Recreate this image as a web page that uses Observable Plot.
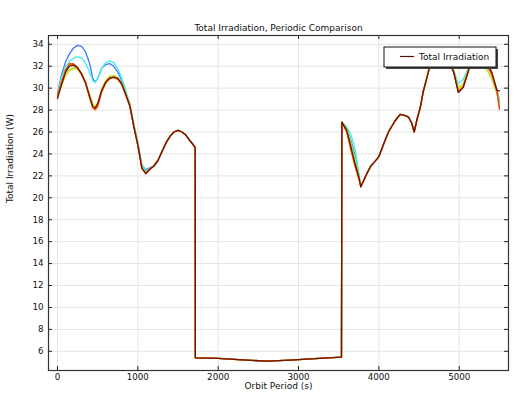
<!DOCTYPE html>
<html><head><meta charset="utf-8">
<script src="https://cdn.jsdelivr.net/npm/d3@7"></script>
<script src="https://cdn.jsdelivr.net/npm/@observablehq/plot@0.6"></script>
<style>html,body{margin:0;padding:0;background:#fff;} #chart{width:516px;height:397px;}</style>
</head><body><div id="chart"></div>
<script>
const seriesNames = ["Blue","Cyan","Green","Yellow","Orange","Red","Dark red"];
const seriesColors = ["#3f74ff","#3ef0ee","#7fe85a","#e6e21a","#ff8a1a","#e8401a","#761400"];
const xTicks = [0,1000,2000,3000,4000,5000];
const yTicks = [6,8,10,12,14,16,18,20,22,24,26,28,30,32,34];
const title = "Total Irradiation, Periodic Comparison";
const xLabel = "Orbit Period (s)";
const yLabel = "Total Irradiation (W)";
const legendLabel = "Total Irradiation";

// Segment A: start of orbit (series differ)
const tA = [0,50,100,150,200,250,300,350,400,440,470,500,550,600,650,700,750,800,850,900,950,1000,1050,1100,1150];
const aBlue    = [29.5,31.2,32.4,33.15,33.66,33.9,33.8,33.3,32.24,30.87,30.56,30.87,31.8,32.15,32.24,32.0,31.47,30.7,29.65,28.55,26.7,25.0,23.0,22.55,22.75];
const aCyan    = [29.4,31.0,31.9,32.45,32.75,32.85,32.75,32.25,31.45,30.7,30.5,30.87,31.8,32.3,32.48,32.33,31.8,30.9,29.8,28.6,26.7,25.0,22.95,22.45,22.7];
const aGreen   = [29.3,30.3,31.2,31.7,31.9,31.75,31.25,30.5,29.45,28.55,28.35,28.6,29.9,30.7,31.1,31.15,31.0,30.5,29.55,28.5,26.6,24.9,22.8,22.3,22.65];
const aYellow  = [29.25,30.2,31.1,31.6,31.8,31.7,31.2,30.45,29.4,28.5,28.3,28.55,29.85,30.65,31.05,31.12,30.95,30.45,29.5,28.45,26.55,24.85,22.75,22.25,22.6];
const aOrange  = [29.35,30.6,31.65,32.25,32.2,31.85,31.25,30.4,29.1,28.15,28.0,28.3,29.6,30.45,30.85,30.95,30.8,30.3,29.35,28.35,26.5,24.8,22.7,22.2,22.6];
const aRed     = [29.2,30.5,31.6,32.2,32.2,31.9,31.3,30.45,29.2,28.25,28.1,28.4,29.7,30.5,30.9,31.0,30.85,30.35,29.4,28.4,26.5,24.8,22.7,22.2,22.6];
const aDarkRed = [29.05,30.3,31.45,32.0,32.1,31.85,31.3,30.5,29.2,28.3,28.2,28.6,29.8,30.55,30.93,31.0,30.9,30.4,29.4,28.4,26.5,24.8,22.7,22.2,22.6];

// Shared: second hump and eclipse
const tShared1 = [1200,1250,1300,1350,1400,1450,1500,1550,1600,1650,1714,1716,2000,2300,2606,2900,3200,3535];
const vShared1 = [22.9,23.4,24.2,25.0,25.6,26.0,26.15,26.0,25.7,25.2,24.6,5.41,5.35,5.22,5.1,5.2,5.33,5.47];

// Segment B: exit of eclipse (series differ)
const tB = [3540,3600,3650,3700,3750,3776];
const bBlue    = [26.9,26.3,25.3,24.0,22.1,21.05];
const bCyan    = [26.9,26.45,25.8,24.6,22.3,21.05];
const bGreen   = [26.9,26.3,25.2,23.7,22.1,21.05];
const bYellow  = [26.85,26.05,24.5,23.0,21.75,21.0];
const bOrange  = [26.85,26.0,24.4,22.9,21.7,21.0];
const bRed     = [26.9,26.1,24.6,23.1,21.85,21.0];
const bDarkRed = [26.9,26.15,24.7,23.2,21.9,21.0];

// Shared: after eclipse
const tShared2 = [3850,3900,3950,4000,4060,4120,4200,4266,4330,4370,4410,4440,4480,4515,4550,4600,4630];
const vShared2 = [22.2,22.9,23.3,23.75,24.9,26.0,27.0,27.6,27.5,27.35,26.8,26.0,27.3,28.2,29.6,31.0,31.9];

// Segment C: end of orbit (series differ)
const tC = [4700,4780,4860,4930,4990,5050,5100,5137,5200,5280,5345,5407,5469,5502];
const cBlue    = [32.9,33.2,32.8,31.6,29.7,30.1,31.3,32.2,32.9,32.7,32.0,31.3,29.9,28.8];
const cCyan    = [32.9,33.2,32.8,31.7,30.4,30.8,31.6,32.3,33.0,32.6,31.7,31.0,29.9,28.9];
const cGreen   = [32.8,33.1,32.7,31.65,30.0,30.4,31.45,32.25,32.9,32.6,31.7,30.8,29.5,28.6];
const cYellow  = [32.8,33.1,32.7,31.6,29.9,30.3,31.4,32.2,32.9,32.6,31.8,30.9,29.6,28.4];
const cOrange  = [32.7,33.0,32.6,31.5,29.7,30.15,31.3,32.15,32.8,32.65,32.1,31.2,29.7,28.1];
const cRed     = [32.7,33.0,32.6,31.5,29.65,30.1,31.25,32.1,32.8,32.7,32.2,31.3,29.8,28.1];
const cDarkRed = [32.7,33.0,32.6,31.5,29.6,30.05,31.2,32.1,32.8,32.7,32.3,31.45,29.8,29.75];

const segA = [aBlue,aCyan,aGreen,aYellow,aOrange,aRed,aDarkRed];
const segB = [bBlue,bCyan,bGreen,bYellow,bOrange,bRed,bDarkRed];
const segC = [cBlue,cCyan,cGreen,cYellow,cOrange,cRed,cDarkRed];

const rows = [];
seriesNames.forEach((s, i) => {
  const ts = [...tA, ...tShared1, ...tB, ...tShared2, ...tC];
  const vs = [...segA[i], ...vShared1, ...segB[i], ...vShared2, ...segC[i]];
  ts.forEach((t, j) => rows.push({s, t, v: vs[j]}));
});

const W = 516, H = 397, mL = 48, mR = 8, mT = 35, mB = 27;
const fw = W - mL - mR, fh = H - mT - mB;
const font = "DejaVu Sans";

const chart = Plot.plot({
  width: W, height: H,
  marginLeft: mL, marginRight: mR, marginTop: mT, marginBottom: mB,
  style: {fontFamily: font, fontSize: "9px", background: "#fff", color: "#111"},
  x: {domain: [-112, 5614]},
  y: {domain: [4.25, 34.8]},
  color: {domain: seriesNames, range: seriesColors},
  marks: [
    Plot.gridX(xTicks, {stroke: "#e4e4e4", strokeOpacity: 1}),
    Plot.gridY(yTicks, {stroke: "#e4e4e4", strokeOpacity: 1}),
    Plot.line(rows, {x: "t", y: "v", z: "s", stroke: "s", strokeWidth: 1.3, clip: true}),
    Plot.tickX(xTicks, {x: d => d, insetTop: fh - 4, stroke: "#222"}),
    Plot.tickX(xTicks, {x: d => d, insetBottom: fh - 4, stroke: "#222"}),
    Plot.tickY(yTicks, {y: d => d, insetRight: fw - 4, stroke: "#222"}),
    Plot.tickY(yTicks, {y: d => d, insetLeft: fw - 4, stroke: "#222"}),
    Plot.axisX(xTicks, {tickSize: 0, tickPadding: 3, label: null, fontSize: 8.7, fill: "#111", tickFormat: d => String(d)}),
    Plot.axisY(yTicks, {tickSize: 0, tickPadding: 5, label: null, fontSize: 8.7, fill: "#111", tickFormat: d => String(d)}),
    Plot.frame({stroke: "#333", strokeWidth: 1.2}),
    Plot.text([title], {frameAnchor: "top", dy: -11, fontSize: 9, fill: "#111"}),
    Plot.text([xLabel], {frameAnchor: "bottom", dy: 18.5, fontSize: 9, fill: "#111"}),
    Plot.text([yLabel], {frameAnchor: "left", dx: -38, rotate: -90, fontSize: 9, fill: "#111"})
  ]
});
document.getElementById("chart").appendChild(chart);

// Legend box
const svg = d3.select(chart);
const lg = svg.append("g").attr("font-family", font).attr("font-size", 9).attr("text-anchor", "start");
const lx = 384, ly = 47, lw = 112, lh = 20;
lg.append("rect").attr("x", lx + 2).attr("y", ly + 2).attr("width", lw).attr("height", lh).attr("fill", "#444");
lg.append("rect").attr("x", lx).attr("y", ly).attr("width", lw).attr("height", lh).attr("fill", "#fff").attr("stroke", "#111").attr("stroke-width", 1);
lg.append("line").attr("x1", lx + 16).attr("x2", lx + 30).attr("y1", ly + 9.5).attr("y2", ly + 9.5).attr("stroke", "#4a1408").attr("stroke-width", 1.2);
lg.append("text").attr("x", lx + 35).attr("y", ly + 9.5).attr("dy", "0.35em").attr("fill", "#111").attr("text-anchor", "start").text(legendLabel);
</script>
</body></html>
